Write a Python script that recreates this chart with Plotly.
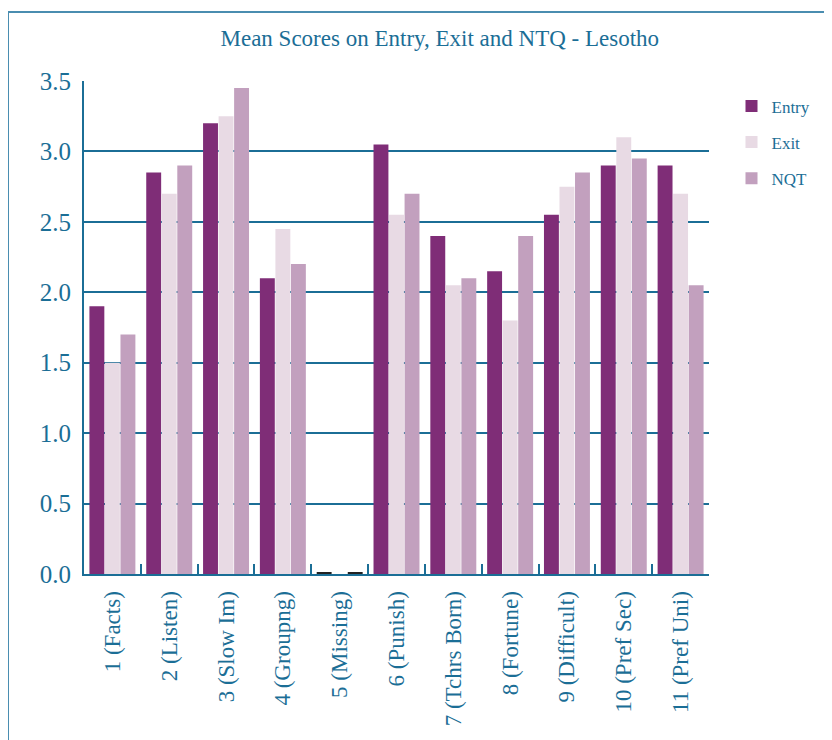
import plotly.graph_objects as go

categories = ["1 (Facts)", "2 (Listen)", "3 (Slow Im)", "4 (Groupng)", "5 (Missing)",
              "6 (Punish)", "7 (Tchrs Born)", "8 (Fortune)", "9 (Difficult)",
              "10 (Pref Sec)", "11 (Pref Uni)"]
entry = [1.9, 2.85, 3.2, 2.1, 0.01, 3.05, 2.4, 2.15, 2.55, 2.9, 2.9]
exit_ = [1.5, 2.7, 3.25, 2.45, 0.0, 2.55, 2.05, 1.8, 2.75, 3.1, 2.7]
nqt = [1.7, 2.9, 3.45, 2.2, 0.01, 2.7, 2.1, 2.4, 2.85, 2.95, 2.05]

TEAL = "#1b6e96"
FONT = "Liberation Serif"

def colors(base, vals):
    return ["#222222" if v <= 0.01 else base for v in vals]

fig = go.Figure()
series = [("Entry", entry, "#7f2d77"), ("Exit", exit_, "#e8dae4"), ("NQT", nqt, "#c2a0be")]
for i, (name, vals, col) in enumerate(series):
    fig.add_trace(go.Bar(x=categories, y=vals, name=name, legendgroup=name,
                         marker=dict(color=colors(col, vals), line=dict(width=0))))

fig.update_layout(
    width=832, height=740,
    margin=dict(l=76, r=131, t=73, b=174),
    paper_bgcolor="white", plot_bgcolor="white",
    barmode="group", bargap=0.18, bargroupgap=0.04,
    font=dict(family=FONT, color=TEAL),
    title=dict(text="Mean Scores on Entry, Exit and NTQ - Lesotho", x=0.519, xanchor="center",
               y=(740 - 30) / 740, yanchor="middle", font=dict(size=23, color=TEAL, family=FONT)),
    legend=dict(x=1.036, y=0.985, xanchor="left", yanchor="top", tracegroupgap=11,
                font=dict(size=17, color=TEAL, family=FONT), itemwidth=30),
    showlegend=True,
)
fig.update_xaxes(showline=True, linecolor=TEAL, linewidth=2, ticks="inside", ticklen=10,
                 tickcolor=TEAL, tickwidth=2, tickson="boundaries", tickangle=-90,
                 tickfont=dict(size=23, color=TEAL, family=FONT), showgrid=False,
                 ticklabelstandoff=6)
fig.update_yaxes(range=[0, 3.5], dtick=0.5, tickformat=".1f", showline=True, linecolor=TEAL,
                 linewidth=2, showgrid=True, gridcolor=TEAL, gridwidth=1.5, ticks="",
                 tickfont=dict(size=25, color=TEAL, family=FONT), zeroline=False,
                 ticklabelstandoff=6)

# outer frame
fig.add_shape(type="rect", xref="paper", yref="paper",
              x0=-76/625, x1=1.5, y0=-0.5, y1=(566-4)/493,
              line=dict(color="#4a8db0", width=2), fillcolor="rgba(0,0,0,0)", layer="below")

fig.write_html("out.html")
